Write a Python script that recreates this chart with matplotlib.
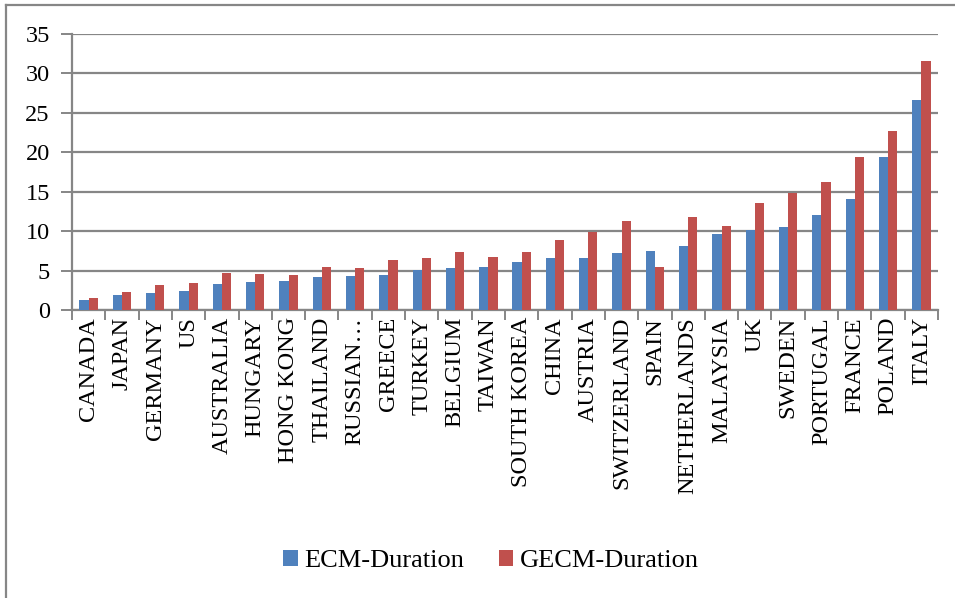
import numpy as np
import matplotlib
matplotlib.use("Agg")
import matplotlib.pyplot as plt
from matplotlib.lines import Line2D

countries = ["CANADA", "JAPAN", "GERMANY", "US", "AUSTRALIA", "HUNGARY",
             "HONG KONG", "THAILAND", "RUSSIAN…", "GREECE", "TURKEY",
             "BELGIUM", "TAIWAN", "SOUTH KOREA", "CHINA", "AUSTRIA",
             "SWITZERLAND", "SPAIN", "NETHERLANDS", "MALAYSIA", "UK",
             "SWEDEN", "PORTUGAL", "FRANCE", "POLAND", "ITALY"]
ecm = [1.27, 1.85, 2.2, 2.41, 3.25, 3.5, 3.68, 4.19, 4.31, 4.39, 5.08,
       5.28, 5.5, 6.09, 6.55, 6.64, 7.27, 7.49, 8.07, 9.68, 10.15,
       10.57, 12.1, 14.08, 19.37, 26.65]
gecm = [1.56, 2.32, 3.17, 3.38, 4.65, 4.57, 4.39, 5.49, 5.37, 6.3, 6.6,
        7.36, 6.72, 7.36, 8.88, 9.94, 11.3, 5.46, 11.8, 10.61, 13.53,
        14.8, 16.24, 19.4, 22.66, 31.55]

plt.rcParams["font.family"] = ["Liberation Serif", "DejaVu Serif"]
fs = 17.5

fig = plt.figure(figsize=(9.55, 5.98), dpi=100)
ax = fig.add_axes([72 / 955, 1 - 310 / 598, (938 - 72) / 955, 276 / 598])

x = np.arange(len(countries))
w = 0.275
ax.bar(x - w / 2, ecm, w, color="#4F81BD", label="ECM-Duration", zorder=3)
ax.bar(x + w / 2, gecm, w, color="#C0504D", label="GECM-Duration", zorder=3)

ax.set_xlim(-0.5, len(countries) - 0.5)
ax.set_ylim(0, 35)
ax.set_yticks(range(0, 36, 5))
ax.yaxis.grid(True, color="#868686", linewidth=1.6, zorder=0)
ax.tick_params(axis="y", length=8, width=1.4, color="#868686",
               labelsize=fs, pad=8)

ax.set_xticks(x)
ax.set_xticklabels(countries, rotation=90, fontsize=fs)
ax.tick_params(axis="x", length=0, pad=5)
ax.set_xticks(np.arange(-0.5, len(countries)), minor=True)
ax.tick_params(axis="x", which="minor", length=7, width=1.4, color="#868686")

for side in ["top", "right"]:
    ax.spines[side].set_visible(False)
for side in ["left", "bottom"]:
    ax.spines[side].set_color("#868686")
    ax.spines[side].set_linewidth(1.6)

fig.legend(loc="center", bbox_to_anchor=(491 / 955, 1 - 561 / 598), ncol=2,
           frameon=False, fontsize=19, handlelength=0.55, handleheight=0.55,
           handletextpad=0.25, columnspacing=1.3)

# outer chart border
fig.add_artist(Line2D([6 / 955, 1], [1 - 5 / 598, 1 - 5 / 598],
                      transform=fig.transFigure, color="#868686", linewidth=1.6))
fig.add_artist(Line2D([6 / 955, 6 / 955], [0, 1 - 5 / 598],
                      transform=fig.transFigure, color="#868686", linewidth=1.6))

fig.savefig("out.png", dpi=100)
